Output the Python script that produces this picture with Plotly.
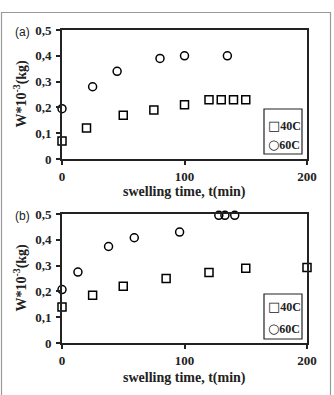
import plotly.graph_objects as go

# Panel (a)
a_t40 = [0, 20, 50, 75, 100, 120, 130, 140, 150]
a_w40 = [0.07, 0.12, 0.17, 0.19, 0.21, 0.23, 0.23, 0.23, 0.23]
a_t60 = [0, 25, 45, 80, 100, 135]
a_w60 = [0.195, 0.28, 0.34, 0.39, 0.40, 0.40]

# Panel (b)
b_t40 = [0, 25, 50, 85, 120, 150, 200]
b_w40 = [0.14, 0.185, 0.22, 0.25, 0.273, 0.29, 0.293]
b_t60 = [0, 13, 38, 59, 96, 128, 133, 141]
b_w60 = [0.207, 0.275, 0.374, 0.408, 0.43, 0.495, 0.495, 0.495]

y_ticks = [0, 0.1, 0.2, 0.3, 0.4, 0.5]
y_ticktext = ["0", "0,1", "0,2", "0,3", "0,4", "0,5"]
x_ticks = [0, 100, 200]
x_ticktext = ["0", "100", "200"]

W, H = 334, 395
def px(x): return x / W
def py(y): return 1 - y / H

fig = go.Figure()
serif = "Liberation Serif"
sans = "Liberation Sans"

panels = [
    ("x", "y", a_t40, a_w40, a_t60, a_w60),
    ("x2", "y2", b_t40, b_w40, b_t60, b_w60),
]
for xa, ya, t40, w40, t60, w60 in panels:
    fig.add_trace(go.Scatter(x=t40, y=w40, mode="markers", name="40C", xaxis=xa, yaxis=ya,
                             marker=dict(symbol="square-open", size=8, color="black",
                                         line=dict(width=1.5, color="black")),
                             showlegend=False, cliponaxis=False))
    fig.add_trace(go.Scatter(x=t60, y=w60, mode="markers", name="60C", xaxis=xa, yaxis=ya,
                             marker=dict(symbol="circle-open", size=8, color="black",
                                         line=dict(width=1.5, color="black")),
                             showlegend=False, cliponaxis=False))

axis_common = dict(showgrid=False, zeroline=False, showline=True, linewidth=2,
                   linecolor="#222", mirror=True, ticks="outside", ticklen=4,
                   tickwidth=1.5, tickcolor="#222", automargin=False,
                   tickfont=dict(family=serif, size=13, color="#222", weight="bold"))

fig.update_layout(
    template="none",
    width=W, height=H, margin=dict(l=0, r=0, t=0, b=0, autoexpand=False),
    paper_bgcolor="white", plot_bgcolor="white", showlegend=False,
    xaxis=dict(domain=[px(62), px(307)], range=[0, 200], anchor="y",
               tickvals=x_ticks, ticktext=x_ticktext, ticklabelstandoff=0, **axis_common),
    yaxis=dict(domain=[py(159), py(30)], range=[0, 0.5], anchor="x",
               tickvals=y_ticks, ticktext=y_ticktext, ticklabelstandoff=2, **axis_common),
    xaxis2=dict(domain=[px(62), px(307)], range=[0, 200], anchor="y2",
                tickvals=x_ticks, ticktext=x_ticktext, ticklabelstandoff=0, **axis_common),
    yaxis2=dict(domain=[py(343), py(214)], range=[0, 0.5], anchor="x2",
                tickvals=y_ticks, ticktext=y_ticktext, ticklabelstandoff=2, **axis_common),
)

# outer frame
fig.add_shape(type="rect", xref="paper", yref="paper",
              x0=px(1.5), x1=px(330.5), y0=py(400), y1=py(12.5),
              line=dict(color="#999", width=1.2))

ann = []
for lab, top, bot, xt_y, lg in [("(a)", 30, 159, 192, (109, 154, 125, 145)),
                                 ("(b)", 214, 343, 378, (294, 339, 306, 328))]:
    ann.append(dict(text=lab, x=px(22), y=py(top + 2), xref="paper", yref="paper",
                    xanchor="center", yanchor="middle",
                    showarrow=False, font=dict(family=sans, size=12, color="#222")))
    ann.append(dict(text="<b>swelling time, t(min)</b>", x=px(184.5), y=py(xt_y),
                    xref="paper", yref="paper", showarrow=False,
                    xanchor="center", yanchor="middle",
                    font=dict(family=serif, size=14, color="#222")))
    ann.append(dict(text="<b>W*10<sup>-3</sup>(kg)</b>", x=px(21), y=py((top + bot) / 2 - 1),
                    xref="paper", yref="paper", showarrow=False, textangle=-90,
                    xanchor="center", yanchor="middle",
                    font=dict(family=serif, size=14, color="#222")))
    # legend box
    fig.add_shape(type="rect", xref="paper", yref="paper",
                  x0=px(264), x1=px(302), y0=py(lg[1]), y1=py(lg[0]),
                  line=dict(color="#222", width=1.2), fillcolor="white")
    for sym, txt, yy in [("□", "40C", lg[2]), ("○", "60C", lg[3])]:
        ann.append(dict(text="<span style='font-size:13px;font-family:DejaVu Sans'>" + sym
                        + "</span><b>" + txt + "</b>", x=px(265.5), y=py(yy),
                        xref="paper", yref="paper", showarrow=False,
                        xanchor="left", yanchor="middle",
                        font=dict(family=serif, size=12, color="#222")))
fig.update_layout(annotations=ann)

fig.write_html("out.html")
